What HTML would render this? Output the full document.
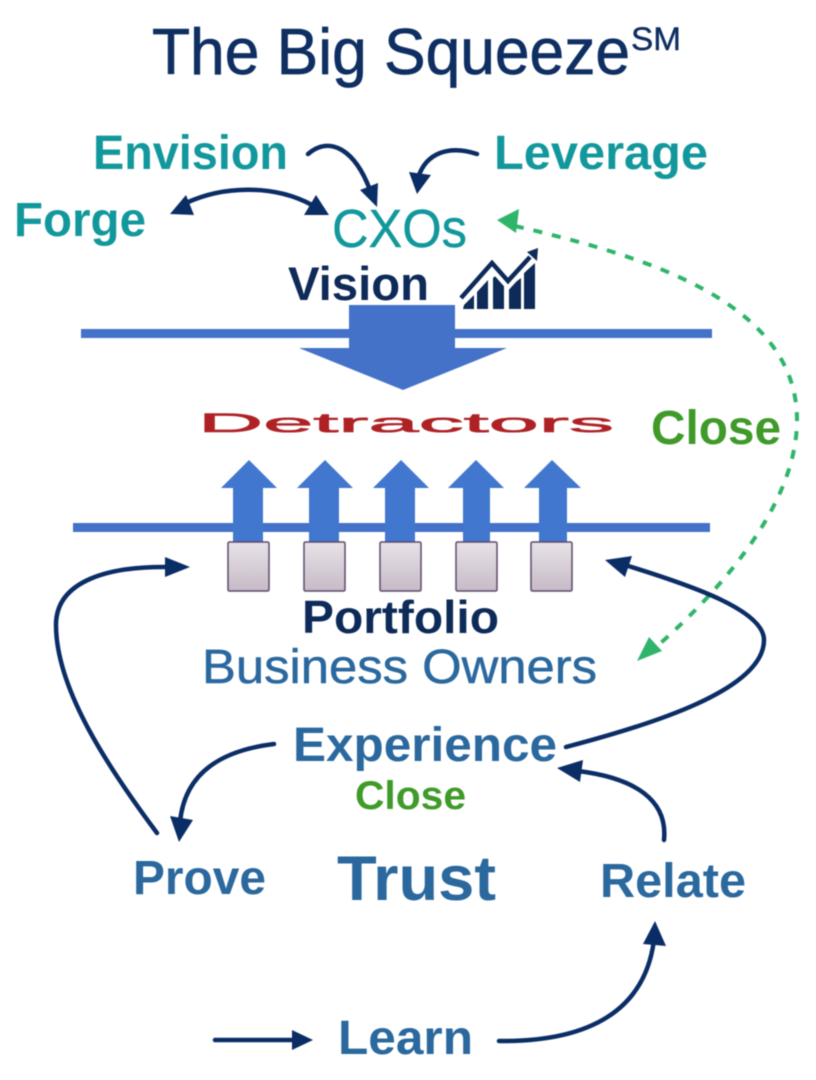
<!DOCTYPE html>
<html><head><meta charset="utf-8"><style>
html,body{margin:0;padding:0;background:#fff;width:816px;height:1080px;overflow:hidden}
svg{display:block;filter:blur(.5px)}
text{font-family:"Liberation Sans",sans-serif}
</style></head><body>
<svg width="816" height="1080" viewBox="0 0 816 1080" xmlns="http://www.w3.org/2000/svg">
<defs>
<linearGradient id="g" x1="0" y1="0" x2="0" y2="1"><stop offset="0" stop-color="#e8e3e8"/><stop offset="1" stop-color="#c6bac6"/></linearGradient>
</defs>
<!-- title -->
<text x="152" y="74" font-size="65" fill="#0f2f62" stroke="#0f2f62" stroke-width=".7" textLength="478" lengthAdjust="spacingAndGlyphs">The Big Squeeze</text>
<text x="631" y="50" font-size="32" fill="#0f2f62" stroke="#0f2f62" stroke-width=".4" textLength="50" lengthAdjust="spacingAndGlyphs">SM</text>
<!-- top labels -->
<g fill="#12989c" font-weight="bold">
<text x="93" y="169" font-size="48" textLength="195" lengthAdjust="spacingAndGlyphs">Envision</text>
<text x="494" y="169" font-size="48" textLength="214" lengthAdjust="spacingAndGlyphs">Leverage</text>
<text x="14" y="236" font-size="48" textLength="132" lengthAdjust="spacingAndGlyphs">Forge</text>
</g>
<text x="332" y="247" font-size="54" fill="#12989c" stroke="#12989c" stroke-width=".4" textLength="135" lengthAdjust="spacingAndGlyphs">CXOs</text>
<text x="288" y="300" font-size="47" font-weight="bold" fill="#0d2a58" textLength="141" lengthAdjust="spacingAndGlyphs">Vision</text>
<!-- top arrows -->
<g fill="none" stroke="#0b2d66" stroke-width="4.5" stroke-linecap="round">
<path d="M308 154C330 135 355 150 370 190"/>
<path d="M477 154C450 145 426 152 418 178"/>
<path d="M186 203C225 185 275 185 312 205"/>
</g>
<g fill="#0b2d66">
<polygon points="377,207 360,190 378,183"/>
<polygon points="417,194 409,172 431,175"/>
<polygon points="170,214 186,195 194,215"/>
<polygon points="329,215 316,195 304,215"/>
</g>
<!-- chart icon -->
<g fill="#0d2a58">
<polygon points="463,309 464,305 474,295 474,309"/>
<polygon points="477,292 488,280 488,309 477,309"/>
<polygon points="493,278 499,273 504,280 504,309 493,309"/>
<polygon points="509,287 521,278 521,309 509,309"/>
<polygon points="524,273 535,263 535,309 524,309"/>
</g>
<path d="M461 298L492 263L508 281L530 257" fill="none" stroke="#fff" stroke-width="9" stroke-linejoin="miter" transform="translate(0,3)"/>
<path d="M461 298L492 263L508 281L530 257" fill="none" stroke="#0d2a58" stroke-width="4.5"/>
<polygon points="538,248 537,261 527,252" fill="#0d2a58"/>
<!-- lines -->
<rect x="81" y="329" width="631" height="9" fill="#4472c9"/>
<rect x="73" y="523" width="637" height="9" fill="#4472c9"/>
<!-- big arrow -->
<polygon points="349,305 455,305 455,348 507,348 403,390 299,348 349,348" fill="#4472c9"/>
<!-- detractors -->
<text x="198" y="432" font-size="27" fill="#ae2226" stroke="#ae2226" stroke-width=".6" textLength="416" lengthAdjust="spacingAndGlyphs">Detractors</text>
<!-- up arrows -->
<g fill="#4277cf">
<polygon points="249,460 277,488 263,488 263,543 233,543 233,488 221,488"/>
<polygon points="325,460 353,488 339,488 339,543 309,543 309,488 297,488"/>
<polygon points="401,460 429,488 415,488 415,543 385,543 385,488 373,488"/>
<polygon points="476,460 504,488 490,488 490,543 463,543 463,488 448,488"/>
<polygon points="552,460 581,488 567,488 567,543 539,543 539,488 524,488"/>
</g>
<!-- boxes -->
<g fill="url(#g)" stroke="#5d4a6c" stroke-width="1.5">
<rect x="228" y="542" width="41" height="49" rx="1.5"/>
<rect x="304" y="542" width="41" height="49" rx="1.5"/>
<rect x="380" y="542" width="41" height="49" rx="1.5"/>
<rect x="456" y="542" width="41" height="49" rx="1.5"/>
<rect x="531" y="542" width="41" height="49" rx="1.5"/>
</g>
<!-- Close right + green dashed -->
<text x="651" y="444" font-size="48" font-weight="bold" fill="#3f9a2a" textLength="130" lengthAdjust="spacingAndGlyphs">Close</text>
<path d="M515 226C640 255 797 300 797 420C797 510 710 600 655 648" fill="none" stroke="#2fb56a" stroke-width="4" stroke-dasharray="9 10"/>
<polygon points="497,220 519,209 516,233" fill="#2fb56a"/>
<polygon points="637,661 649,637 662,651" fill="#2fb56a"/>
<!-- portfolio -->
<text x="302" y="633" font-size="46" font-weight="bold" fill="#0d2a58" textLength="197" lengthAdjust="spacingAndGlyphs">Portfolio</text>
<text x="202" y="683" font-size="48" fill="#2a689e" stroke="#2a689e" stroke-width=".5" textLength="395" lengthAdjust="spacingAndGlyphs">Business Owners</text>
<text x="293" y="761" font-size="48" font-weight="bold" fill="#2a689e" textLength="264" lengthAdjust="spacingAndGlyphs">Experience</text>
<text x="355" y="809" font-size="40" font-weight="bold" fill="#3f9a2a" textLength="111" lengthAdjust="spacingAndGlyphs">Close</text>
<text x="133" y="894" font-size="48" font-weight="bold" fill="#2a689e" textLength="133" lengthAdjust="spacingAndGlyphs">Prove</text>
<text x="337" y="900" font-size="63" font-weight="bold" fill="#2a689e" textLength="159" lengthAdjust="spacingAndGlyphs">Trust</text>
<text x="600" y="897" font-size="48" font-weight="bold" fill="#2a689e" textLength="146" lengthAdjust="spacingAndGlyphs">Relate</text>
<text x="338" y="1054" font-size="48" font-weight="bold" fill="#2a689e" textLength="135" lengthAdjust="spacingAndGlyphs">Learn</text>
<!-- lower arrows -->
<g fill="none" stroke="#0b2d66" stroke-width="4.5" stroke-linecap="round">
<path d="M157 833C110 770 56 690 56 625C56 580 110 566 170 567"/>
<path d="M274 744C225 750 185 770 180 822"/>
<path d="M566 747C650 725 764 690 764 640C764 610 690 585 625 565"/>
<path d="M664 840C668 800 635 778 578 771"/>
<path d="M499 1041C590 1042 645 1010 654 940"/>
<path d="M215 1040H296"/>
</g>
<g fill="#0b2d66">
<polygon points="190,567 165,557 165,577"/>
<polygon points="179,842 170,816 193,820"/>
<polygon points="605,560 632,556 625,577"/>
<polygon points="557,768 583,760 580,782"/>
<polygon points="655,921 666,946 643,944"/>
<polygon points="313,1040 292,1030 292,1050"/>
</g>
</svg>
</body></html>
